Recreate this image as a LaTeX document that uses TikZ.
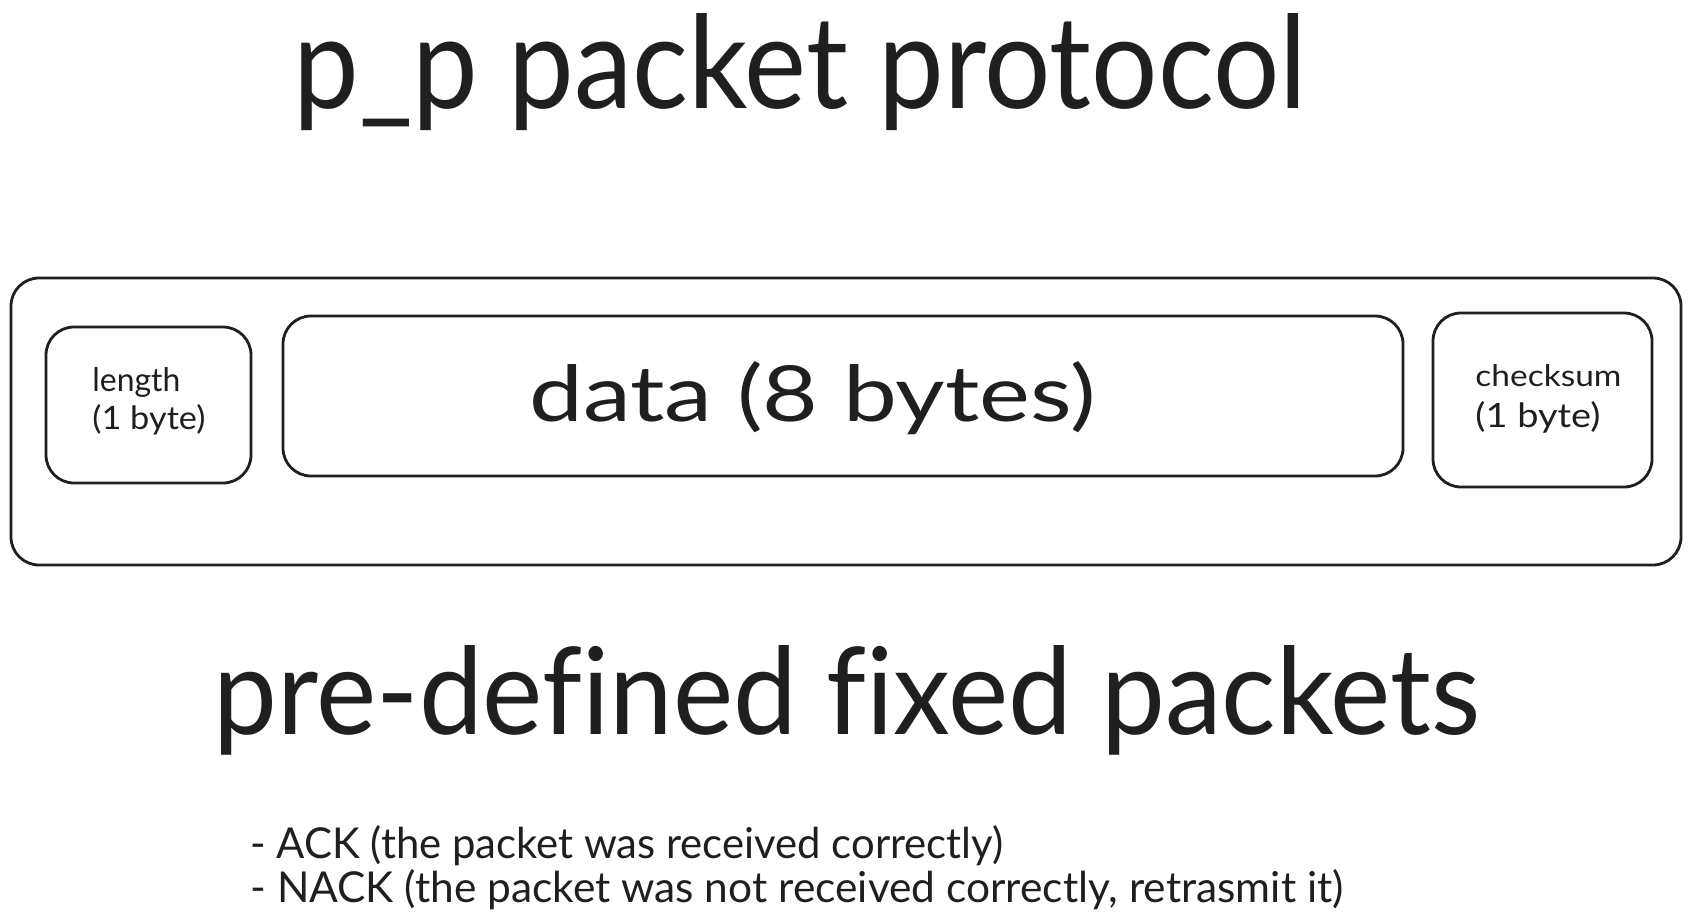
\documentclass[tikz,border=0pt]{standalone}
\usepackage{fontspec}
\setmainfont[Ligatures=NoCommon]{Lato}
\usepackage{graphicx}
\begin{document}
\begin{tikzpicture}[x=0.5pt,y=-0.5pt,
  box/.style={draw=black!88, line width=1.4pt, rounded corners=14pt},
  lbl/.style={inner sep=0pt, anchor=base west, text=black!88}]
\useasboundingbox (0,0) rectangle (1692,921);
% shapes
\draw[box] (11,278) rectangle (1681,565);
\draw[box] (46,327) rectangle (251,483);
\draw[box] (283,316) rectangle (1403,476);
\draw[box] (1433,313) rectangle (1652,487);
% texts
\node[lbl] (title) at (293,108) {\resizebox{506.5pt}{47.5pt}{p\_p packet protocol}};
\node[lbl] (data) at (529,421) {\resizebox{283pt}{30pt}{data (8 bytes)}};
\node[lbl] (len1) at (92,391) {\resizebox{44pt}{12pt}{length}};
\node[lbl] (len2) at (92,429) {\resizebox{56.5pt}{12.5pt}{(1 byte)}};
\node[lbl] (chk1) at (1475,386) {\resizebox{73pt}{11pt}{checksum}};
\node[lbl] (chk2) at (1475,427) {\resizebox{62.5pt}{13pt}{(1 byte)}};
\node[lbl] (pre) at (213,734) {\resizebox{633.5pt}{44.5pt}{pre-defined fixed packets}};
\node[lbl] (ack) at (250,858) {\resizebox{376.5pt}{16.5pt}{- ACK (the packet was received correctly)}};
\node[lbl] (nack) at (250,902) {\resizebox{546.5pt}{16.5pt}{- NACK (the packet was not received correctly, retrasmit it)}};
\end{tikzpicture}
\end{document}
